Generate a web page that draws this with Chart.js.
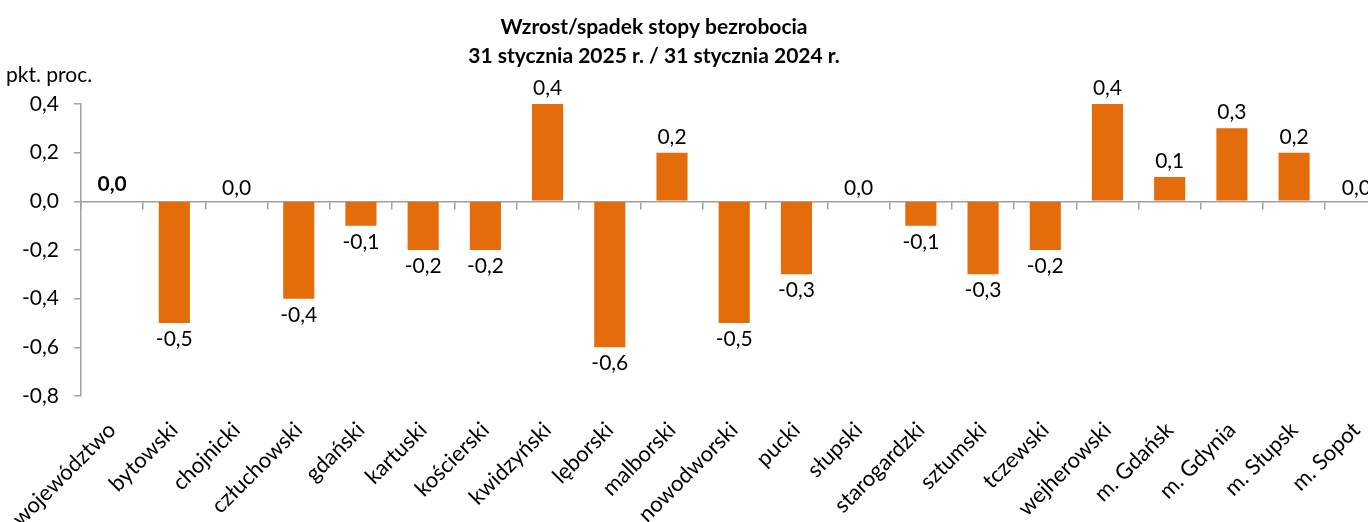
<!DOCTYPE html>
<html><head><meta charset="utf-8">
<script src="https://cdn.jsdelivr.net/npm/chart.js@4/dist/chart.umd.min.js"></script>
<style>
html,body{margin:0;padding:0;overflow:hidden;background:#fff;width:1368px;height:522px}
#wrap{position:absolute;left:0;top:0;width:1388px;height:522px}
</style>
</head><body>
<div id="wrap"><canvas id="c" width="1388" height="522"></canvas></div>
<script>
const categories = ['województwo','bytowski','chojnicki','człuchowski','gdański','kartuski','kościerski','kwidzyński','lęborski','malborski','nowodworski','pucki','słupski','starogardzki','sztumski','tczewski','wejherowski','m. Gdańsk','m. Gdynia','m. Słupsk','m. Sopot'];
const values = [0.0,-0.5,0.0,-0.4,-0.1,-0.2,-0.2,0.4,-0.6,0.2,-0.5,-0.3,0.0,-0.1,-0.3,-0.2,0.4,0.1,0.3,0.2,0.0];
const yTicks = [0.4,0.2,0.0,-0.2,-0.4,-0.6,-0.8];
const titleLines = ['Wzrost/spadek stopy bezrobocia','31 stycznia 2025 r. / 31 stycznia 2024 r.'];
const unitLabel = 'pkt. proc.';

const fmt = v => (Math.abs(v) < 1e-9 ? 0 : v).toFixed(1).replace('.', ',');
const FONT = 'Lato';
const axisColor = '#A0A0A0';

const valueLabels = {
  id: 'valueLabels',
  afterDatasetsDraw(chart) {
    const ctx = chart.ctx;
    const meta = chart.getDatasetMeta(0);
    ctx.save();
    ctx.fillStyle = '#000';
    ctx.textAlign = 'center';
    ctx.textBaseline = 'alphabetic';
    meta.data.forEach((bar, i) => {
      const v = values[i];
      const bold = i === 0;
      ctx.font = (bold ? 'bold ' : '') + '21px ' + FONT;
      let y;
      if (v < 0) y = bar.y + 23;
      else if (v > 0) y = bar.y - 9;
      else y = bar.y - (bold ? 10 : 6);
      ctx.fillText(fmt(v), bar.x, y);
    });
    ctx.restore();
  }
};

const twoLineTitle = {
  id: 'twoLineTitle',
  afterDraw(chart, args, opts) {
    const ctx = chart.ctx;
    ctx.save();
    ctx.fillStyle = '#000';
    ctx.textBaseline = 'alphabetic';
    ctx.textAlign = 'center';
    ctx.font = 'bold 21px ' + FONT;
    titleLines.forEach((t, i) => ctx.fillText(t, opts.x, opts.y + i * opts.lineHeight));
    ctx.textAlign = 'left';
    ctx.font = '21px ' + FONT;
    ctx.fillText(unitLabel, opts.unitX, opts.unitY);
    ctx.restore();
  }
};

new Chart(document.getElementById('c'), {
  type: 'bar',
  data: {
    labels: categories,
    datasets: [{
      data: values,
      backgroundColor: '#E46C0A',
      barPercentage: 0.5,
      categoryPercentage: 1,
      xAxisID: 'x',
      yAxisID: 'y'
    }]
  },
  options: {
    responsive: false,
    animation: false,
    devicePixelRatio: 1,
    layout: {padding: {top: 104, left: 0, right: 0, bottom: 0}},
    plugins: {
      legend: {display: false},
      title: {display: false},
      tooltip: {enabled: false},
      twoLineTitle: {x: 654, y: 34, lineHeight: 29, unitX: 6, unitY: 82}
    },
    scales: {
      x: {
        type: 'category',
        position: {y: 0},
        offset: true,
        grid: {offset: true, drawOnChartArea: false, drawTicks: true, tickLength: 7, color: axisColor, lineWidth: 1.5},
        border: {color: axisColor, width: 1.5},
        ticks: {display: false}
      },
      x2: {
        type: 'category',
        position: 'bottom',
        offset: true,
        grid: {display: false},
        border: {display: false},
        ticks: {font: {family: FONT, size: 22}, color: '#000', maxRotation: 45, minRotation: 45, autoSkip: false, padding: 13},
        afterFit: s => { s.height = 126; }
      },
      y: {
        position: 'left',
        min: -0.8,
        max: 0.4,
        afterBuildTicks: s => { s.ticks = yTicks.map(v => ({value: v})); },
        grid: {drawOnChartArea: false, drawTicks: true, tickLength: 7, color: axisColor, lineWidth: 1.5},
        border: {color: axisColor, width: 1.5},
        ticks: {font: {family: FONT, size: 21}, color: '#000', padding: 15, callback: v => fmt(v)},
        afterFit: s => { s.width = 81; }
      }
    }
  },
  plugins: [valueLabels, twoLineTitle]
});
</script>
</body></html>
